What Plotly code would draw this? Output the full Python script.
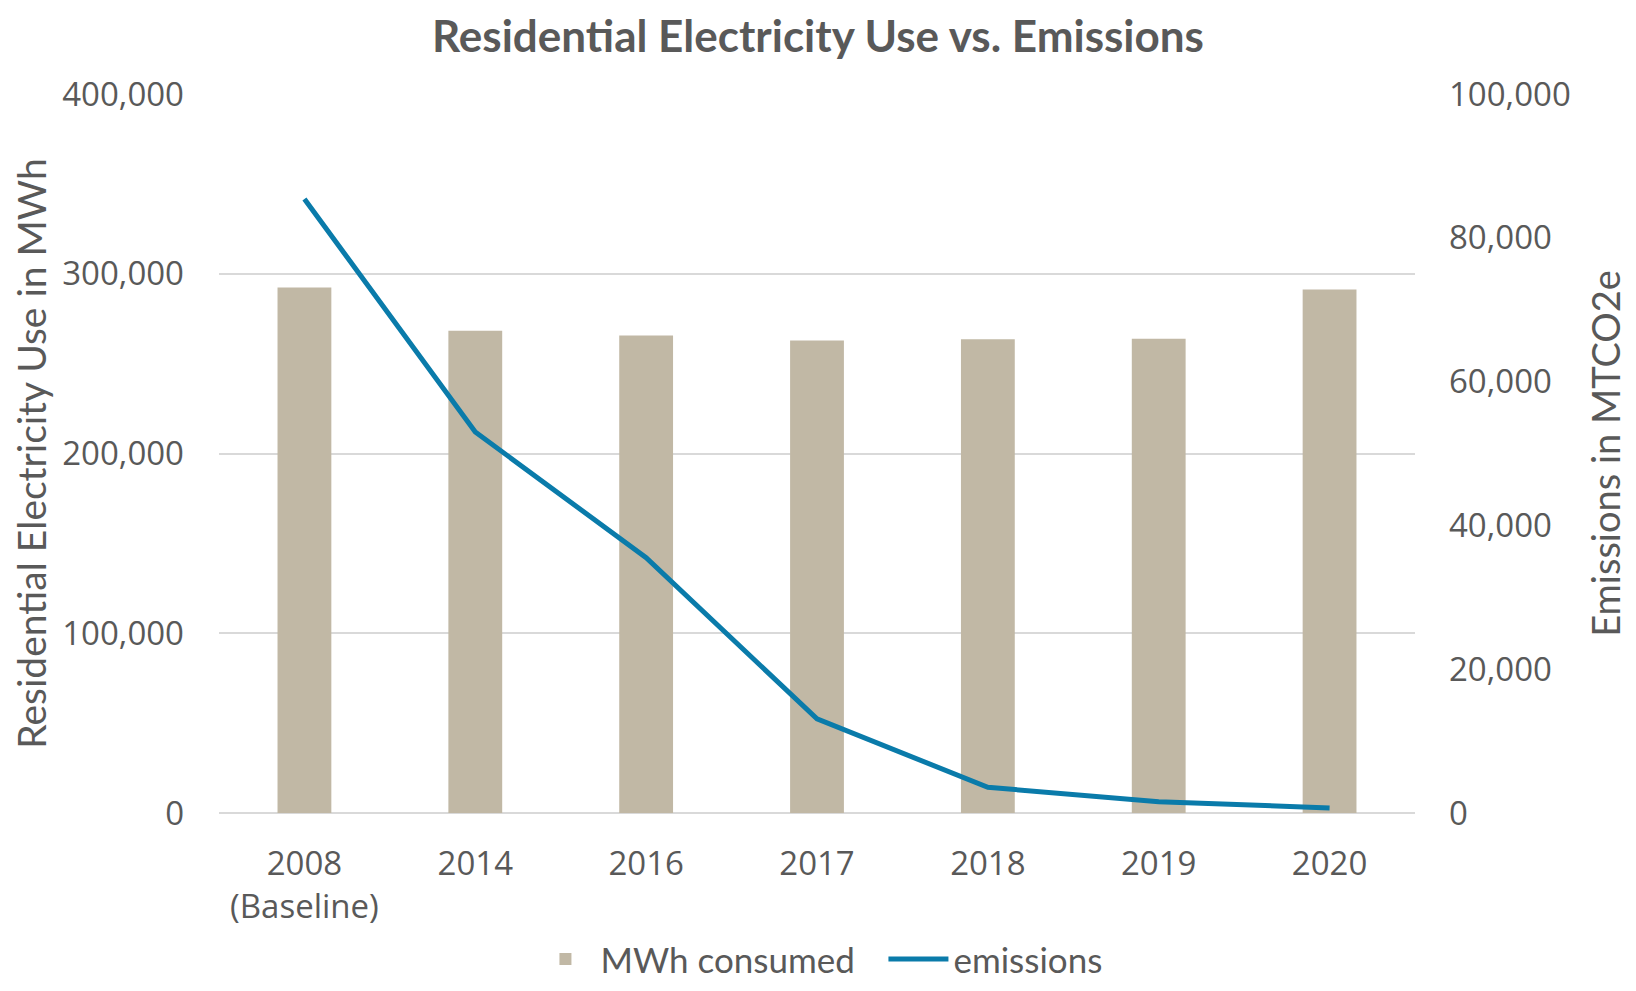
import plotly.graph_objects as go

categories = ["2008<br>(Baseline)", "2014", "2016", "2017", "2018", "2019", "2020"]
mwh_consumed = [292400, 268300, 265700, 262900, 263500, 263800, 291300]
emissions = [85400, 53000, 35500, 13100, 3570, 1580, 700]

TEXT = "#595959"
TICK_FONT = dict(family="Open Sans", size=33, color=TEXT)

fig = go.Figure()
fig.add_trace(go.Bar(
    x=categories, y=mwh_consumed, name="MWh consumed",
    marker=dict(color="#C1B8A5", line=dict(width=0)), width=0.315,
))
fig.add_trace(go.Scatter(
    x=categories, y=emissions, name="emissions", yaxis="y2",
    mode="lines", line=dict(color="#0A7BAA", width=5),
))

fig.update_layout(
    width=1620, height=975,
    margin=dict(l=211, r=213, t=86, b=170, autoexpand=False),
    paper_bgcolor="white", plot_bgcolor="white",
    title=dict(text="<b>Residential Electricity Use vs. Emissions</b>",
               x=0.5, xanchor="center", y=0.971, yanchor="middle",
               font=dict(family="Lato", size=44, color=TEXT)),
    xaxis=dict(tickfont=TICK_FONT, showgrid=False, showline=False,
               ticks="", zeroline=False, ticklabelstandoff=28, automargin=False),
    yaxis=dict(range=[0, 400000], dtick=100000, tickformat=",",
               tickfont=TICK_FONT, gridcolor="#D9D9D9", gridwidth=1.5,
               zeroline=True, zerolinecolor="#D9D9D9", zerolinewidth=1.5,
               showline=False, ticks="", ticklabelstandoff=34, automargin=False,
               title=dict(text="Residential Electricity Use in MWh",
                          font=dict(family="Lato", size=39, color=TEXT),
                          standoff=14)),
    yaxis2=dict(range=[0, 100000], dtick=20000, tickformat=",",
                overlaying="y", side="right", showgrid=False, zeroline=False,
                tickfont=TICK_FONT, showline=False, ticks="", ticklabelstandoff=33,
                automargin=False,
                title=dict(text="Emissions in MTCO2e",
                           font=dict(family="Lato", size=38, color=TEXT),
                           standoff=23)),
    legend=dict(orientation="h", x=0.2604, xanchor="left", y=-0.2443, yanchor="bottom",
                font=dict(family="Lato", size=35, color=TEXT),
                itemwidth=60, entrywidth=278, traceorder="normal"),
    bargap=0.685,
)

fig.write_html("out.html")
